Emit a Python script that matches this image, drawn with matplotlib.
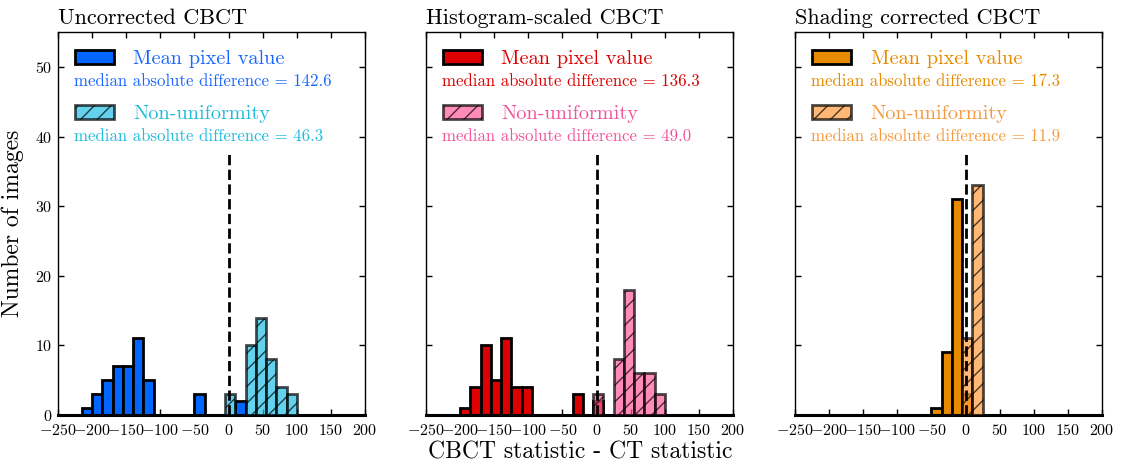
import numpy as np
import matplotlib
matplotlib.use("Agg")
import matplotlib.pyplot as plt
from matplotlib.patches import Patch

plt.rcParams['font.family'] = ['cmr10', 'DejaVu Serif']
plt.rcParams['mathtext.fontset'] = 'cm'
plt.rcParams['axes.formatter.use_mathtext'] = True
plt.rcParams['axes.unicode_minus'] = True

# ---------------- data ----------------
titles = ["Uncorrected CBCT", "Histogram-scaled CBCT", "Shading corrected CBCT"]
series_names = ["Mean pixel value", "Non-uniformity"]
median_mean = [142.6, 136.3, 17.3]
median_nonu = [46.3, 49.0, 11.9]

bin_width = 15
# left edges of bins and counts
mean_left = [
    [-215, -200, -185, -170, -155, -140, -125, -50, 10],
    [-200, -185, -170, -155, -140, -125, -110, -35, -5],
    [-50, -35, -20, -5],
]
mean_counts = [
    [1, 3, 5, 7, 7, 11, 5, 3, 2],
    [1, 4, 10, 5, 11, 4, 4, 3, 2],
    [1, 9, 31, 3],
]
nonu_left = [
    [-5, 25, 40, 55, 70, 85],
    [-5, 25, 40, 55, 70, 85],
    [-5, 10],
]
nonu_counts = [
    [3, 10, 14, 8, 4, 3],
    [3, 8, 18, 6, 6, 3],
    [11, 33],
]

mean_colors = ["#0066ff", "#dd0000", "#e68a00"]
nonu_colors = ["#22c0e6", "#ff5c9a", "#ff9a3c"]
mean_text_colors = ["#1a66ff", "#dd0000", "#e68a00"]
nonu_text_colors = ["#22bbdd", "#f0559a", "#f59a40"]

xticks = [-250, -200, -150, -100, -50, 0, 50, 100, 150, 200]
yticks = [0, 10, 20, 30, 40, 50]
xlim = (-250, 200)
ylim = (0, 55)
zero_line_top = 38

# ---------------- figure ----------------
fig = plt.figure(figsize=(11.22, 4.66), dpi=100)
lefts = [0.0517, 0.3797, 0.7086]
axes = []
for i in range(3):
    ax = fig.add_axes([lefts[i], 0.1094, 0.2736, 0.8212])
    axes.append(ax)
    ax.bar(mean_left[i], mean_counts[i], width=bin_width, align='edge',
           facecolor=mean_colors[i], edgecolor='black', linewidth=2, zorder=2)
    ax.bar(nonu_left[i], nonu_counts[i], width=bin_width, align='edge',
           facecolor=nonu_colors[i], edgecolor='black', linewidth=2,
           hatch='//', alpha=0.7, zorder=3)
    ax.vlines(0, 0, zero_line_top, colors='black', linestyles='--',
              linewidth=2, zorder=4)
    ax.set_xlim(*xlim)
    ax.set_ylim(*ylim)
    ax.set_xticks(xticks)
    ax.set_yticks(yticks)
    ax.tick_params(direction='in', top=True, right=True, length=4,
                   width=1, labelsize=11.5, pad=4)
    ax.tick_params(axis='x', pad=5.5)
    if i > 0:
        ax.tick_params(labelleft=False)
    for s in ax.spines.values():
        s.set_linewidth(1)
    ax.spines['bottom'].set_linewidth(2.2)
    ax.set_title(titles[i], loc='left', fontsize=16, pad=6)

    handles = [
        Patch(facecolor=mean_colors[i], edgecolor='black', linewidth=2),
        Patch(facecolor=nonu_colors[i], edgecolor='black', linewidth=2,
              hatch='//', alpha=0.7),
    ]
    leg = ax.legend(handles, series_names, loc='upper left',
                    bbox_to_anchor=(0.008, 0.99), frameon=False,
                    fontsize=14.6, handlelength=1.95, handleheight=0.68,
                    handletextpad=0.95, labelspacing=1.8, borderpad=0.2)
    leg.get_texts()[0].set_color(mean_text_colors[i])
    leg.get_texts()[1].set_color(nonu_text_colors[i])
    ax.text(0.052, 0.873, f"median absolute difference = {median_mean[i]:.1f}",
            transform=ax.transAxes, color=mean_text_colors[i], fontsize=12.1,
            va='center', ha='left')
    ax.text(0.052, 0.729, f"median absolute difference = {median_nonu[i]:.1f}",
            transform=ax.transAxes, color=nonu_text_colors[i], fontsize=12.1,
            va='center', ha='left')

axes[0].set_ylabel("Number of images", fontsize=17, labelpad=8)
fig.text(0.517, 0.03, "CBCT statistic - CT statistic", fontsize=17,
         ha='center', va='center')

fig.savefig("out.png", dpi=100)
